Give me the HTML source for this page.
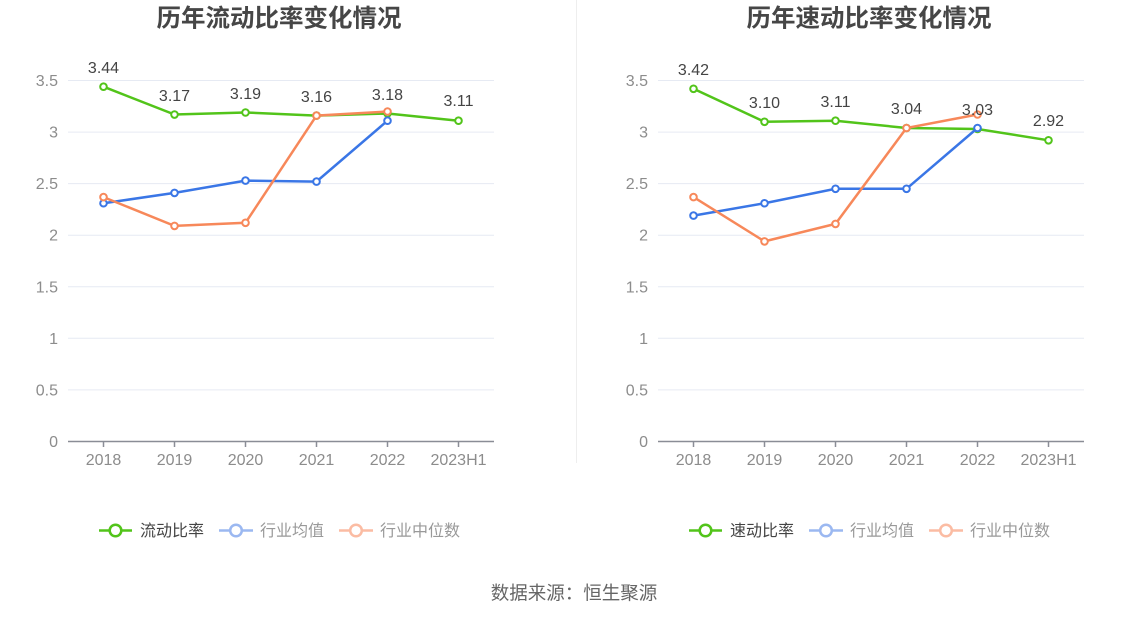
<!DOCTYPE html>
<html><head><meta charset="utf-8"><style>
html,body{margin:0;padding:0;background:#fff;}
svg{display:block;}
text{font-family:"Liberation Sans","Noto Sans CJK SC",sans-serif;}
.cjk{font-family:"Noto Sans CJK SC","Liberation Sans",sans-serif;}
.ttl{font-size:24.5px;font-weight:bold;fill:#464646;}
.yl{font-size:16px;fill:#8c8c8c;text-anchor:end;}
.xl{font-size:16px;fill:#8c8c8c;text-anchor:middle;}
.dl{font-size:16px;fill:#444;text-anchor:middle;}
.grid{stroke:#e6eaf3;stroke-width:1;}
.lg{font-size:16px;}
</style></head><body>
<svg width="1148" height="619" viewBox="0 0 1148 619" xmlns="http://www.w3.org/2000/svg">
<rect width="1148" height="619" fill="#fff"/>
<line x1="576.5" y1="0" x2="576.5" y2="463" stroke="#eeeeee" stroke-width="1"/>

<!-- LEFT CHART -->
<text class="ttl cjk" x="279" y="26.5" text-anchor="middle">历年流动比率变化情况</text>
<g>
<line class="grid" x1="68" x2="494" y1="80.5" y2="80.5"/>
<line class="grid" x1="68" x2="494" y1="132.1" y2="132.1"/>
<line class="grid" x1="68" x2="494" y1="183.6" y2="183.6"/>
<line class="grid" x1="68" x2="494" y1="235.2" y2="235.2"/>
<line class="grid" x1="68" x2="494" y1="286.8" y2="286.8"/>
<line class="grid" x1="68" x2="494" y1="338.3" y2="338.3"/>
<line class="grid" x1="68" x2="494" y1="389.9" y2="389.9"/>
<line x1="68" x2="494" y1="441.5" y2="441.5" stroke="#8a8d96" stroke-width="1.5"/>
<g stroke="#8a8d96" stroke-width="1.5">
<line x1="103.5" x2="103.5" y1="441.5" y2="447"/>
<line x1="174.5" x2="174.5" y1="441.5" y2="447"/>
<line x1="245.5" x2="245.5" y1="441.5" y2="447"/>
<line x1="316.5" x2="316.5" y1="441.5" y2="447"/>
<line x1="387.5" x2="387.5" y1="441.5" y2="447"/>
<line x1="458.5" x2="458.5" y1="441.5" y2="447"/>
</g>
<text class="yl" x="58" y="86">3.5</text>
<text class="yl" x="58" y="137.6">3</text>
<text class="yl" x="58" y="189.1">2.5</text>
<text class="yl" x="58" y="240.7">2</text>
<text class="yl" x="58" y="292.3">1.5</text>
<text class="yl" x="58" y="343.8">1</text>
<text class="yl" x="58" y="395.4">0.5</text>
<text class="yl" x="58" y="447">0</text>
<text class="xl" x="103.5" y="465">2018</text>
<text class="xl" x="174.5" y="465">2019</text>
<text class="xl" x="245.5" y="465">2020</text>
<text class="xl" x="316.5" y="465">2021</text>
<text class="xl" x="387.5" y="465">2022</text>
<text class="xl" x="458.5" y="465">2023H1</text>

<polyline fill="none" stroke="#52c41a" stroke-width="2.5" points="103.5,86.7 174.5,114.55 245.5,112.5 316.5,115.6 387.5,113.5 458.5,120.7"/>
<g fill="#fff" stroke="#52c41a" stroke-width="2">
<circle cx="103.5" cy="86.7" r="3.3"/><circle cx="174.5" cy="114.55" r="3.3"/><circle cx="245.5" cy="112.5" r="3.3"/><circle cx="316.5" cy="115.6" r="3.3"/><circle cx="387.5" cy="113.5" r="3.3"/><circle cx="458.5" cy="120.7" r="3.3"/>
</g>
<polyline fill="none" stroke="#3a76e6" stroke-width="2.5" points="103.5,203.25 174.5,192.9 245.5,180.6 316.5,181.6 387.5,120.7"/>
<g fill="#fff" stroke="#3a76e6" stroke-width="2">
<circle cx="103.5" cy="203.25" r="3.3"/><circle cx="174.5" cy="192.9" r="3.3"/><circle cx="245.5" cy="180.6" r="3.3"/><circle cx="316.5" cy="181.6" r="3.3"/><circle cx="387.5" cy="120.7" r="3.3"/>
</g>
<polyline fill="none" stroke="#f7885a" stroke-width="2.5" points="103.5,197.1 174.5,225.9 245.5,222.8 316.5,115.6 387.5,111.5"/>
<g fill="#fff" stroke="#f7885a" stroke-width="2">
<circle cx="103.5" cy="197.1" r="3.3"/><circle cx="174.5" cy="225.9" r="3.3"/><circle cx="245.5" cy="222.8" r="3.3"/><circle cx="316.5" cy="115.6" r="3.3"/><circle cx="387.5" cy="111.5" r="3.3"/>
</g>
<text class="dl" x="103.5" y="73">3.44</text>
<text class="dl" x="174.5" y="101">3.17</text>
<text class="dl" x="245.5" y="99">3.19</text>
<text class="dl" x="316.5" y="102">3.16</text>
<text class="dl" x="387.5" y="100">3.18</text>
<text class="dl" x="458.5" y="106">3.11</text>

<!-- legend -->
<line x1="99" x2="132" y1="530.5" y2="530.5" stroke="#52c41a" stroke-width="2.5"/>
<circle cx="115.5" cy="530.5" r="5.8" fill="#fff" stroke="#52c41a" stroke-width="2.5"/>
<text class="lg cjk" x="140" y="536" fill="#444">流动比率</text>
<line x1="219" x2="253" y1="530.5" y2="530.5" stroke="#9bb8f1" stroke-width="2.5"/>
<circle cx="236" cy="530.5" r="5.8" fill="#fff" stroke="#9bb8f1" stroke-width="2.5"/>
<text class="lg cjk" x="260" y="536" fill="#999">行业均值</text>
<line x1="339" x2="373" y1="530.5" y2="530.5" stroke="#fbbca3" stroke-width="2.5"/>
<circle cx="356" cy="530.5" r="5.8" fill="#fff" stroke="#fbbca3" stroke-width="2.5"/>
<text class="lg cjk" x="380" y="536" fill="#999">行业中位数</text>
</g>

<!-- RIGHT CHART -->
<text class="ttl cjk" x="869" y="26.5" text-anchor="middle">历年速动比率变化情况</text>
<g>
<line class="grid" x1="658" x2="1084" y1="80.5" y2="80.5"/>
<line class="grid" x1="658" x2="1084" y1="132.1" y2="132.1"/>
<line class="grid" x1="658" x2="1084" y1="183.6" y2="183.6"/>
<line class="grid" x1="658" x2="1084" y1="235.2" y2="235.2"/>
<line class="grid" x1="658" x2="1084" y1="286.8" y2="286.8"/>
<line class="grid" x1="658" x2="1084" y1="338.3" y2="338.3"/>
<line class="grid" x1="658" x2="1084" y1="389.9" y2="389.9"/>
<line x1="658" x2="1084" y1="441.5" y2="441.5" stroke="#8a8d96" stroke-width="1.5"/>
<g stroke="#8a8d96" stroke-width="1.5">
<line x1="693.5" x2="693.5" y1="441.5" y2="447"/>
<line x1="764.5" x2="764.5" y1="441.5" y2="447"/>
<line x1="835.5" x2="835.5" y1="441.5" y2="447"/>
<line x1="906.5" x2="906.5" y1="441.5" y2="447"/>
<line x1="977.5" x2="977.5" y1="441.5" y2="447"/>
<line x1="1048.5" x2="1048.5" y1="441.5" y2="447"/>
</g>
<text class="yl" x="648" y="86">3.5</text>
<text class="yl" x="648" y="137.6">3</text>
<text class="yl" x="648" y="189.1">2.5</text>
<text class="yl" x="648" y="240.7">2</text>
<text class="yl" x="648" y="292.3">1.5</text>
<text class="yl" x="648" y="343.8">1</text>
<text class="yl" x="648" y="395.4">0.5</text>
<text class="yl" x="648" y="447">0</text>
<text class="xl" x="693.5" y="465">2018</text>
<text class="xl" x="764.5" y="465">2019</text>
<text class="xl" x="835.5" y="465">2020</text>
<text class="xl" x="906.5" y="465">2021</text>
<text class="xl" x="977.5" y="465">2022</text>
<text class="xl" x="1048.5" y="465">2023H1</text>

<polyline fill="none" stroke="#52c41a" stroke-width="2.5" points="693.5,88.8 764.5,121.8 835.5,120.7 906.5,128 977.5,129 1048.5,140.3"/>
<g fill="#fff" stroke="#52c41a" stroke-width="2">
<circle cx="693.5" cy="88.8" r="3.3"/><circle cx="764.5" cy="121.8" r="3.3"/><circle cx="835.5" cy="120.7" r="3.3"/><circle cx="906.5" cy="128" r="3.3"/><circle cx="977.5" cy="129" r="3.3"/><circle cx="1048.5" cy="140.3" r="3.3"/>
</g>
<polyline fill="none" stroke="#3a76e6" stroke-width="2.5" points="693.5,215.6 764.5,203.25 835.5,188.8 906.5,188.8 977.5,128"/>
<g fill="#fff" stroke="#3a76e6" stroke-width="2">
<circle cx="693.5" cy="215.6" r="3.3"/><circle cx="764.5" cy="203.25" r="3.3"/><circle cx="835.5" cy="188.8" r="3.3"/><circle cx="906.5" cy="188.8" r="3.3"/><circle cx="977.5" cy="128" r="3.3"/>
</g>
<polyline fill="none" stroke="#f7885a" stroke-width="2.5" points="693.5,197.1 764.5,241.4 835.5,223.9 906.5,128 977.5,114.5"/>
<g fill="#fff" stroke="#f7885a" stroke-width="2">
<circle cx="693.5" cy="197.1" r="3.3"/><circle cx="764.5" cy="241.4" r="3.3"/><circle cx="835.5" cy="223.9" r="3.3"/><circle cx="906.5" cy="128" r="3.3"/><circle cx="977.5" cy="114.5" r="3.3"/>
</g>
<text class="dl" x="693.5" y="75">3.42</text>
<text class="dl" x="764.5" y="108">3.10</text>
<text class="dl" x="835.5" y="107">3.11</text>
<text class="dl" x="906.5" y="114">3.04</text>
<text class="dl" x="977.5" y="115">3.03</text>
<text class="dl" x="1048.5" y="126">2.92</text>

<!-- legend -->
<line x1="689" x2="722" y1="530.5" y2="530.5" stroke="#52c41a" stroke-width="2.5"/>
<circle cx="705.5" cy="530.5" r="5.8" fill="#fff" stroke="#52c41a" stroke-width="2.5"/>
<text class="lg cjk" x="730" y="536" fill="#444">速动比率</text>
<line x1="809" x2="843" y1="530.5" y2="530.5" stroke="#9bb8f1" stroke-width="2.5"/>
<circle cx="826" cy="530.5" r="5.8" fill="#fff" stroke="#9bb8f1" stroke-width="2.5"/>
<text class="lg cjk" x="850" y="536" fill="#999">行业均值</text>
<line x1="929" x2="963" y1="530.5" y2="530.5" stroke="#fbbca3" stroke-width="2.5"/>
<circle cx="946" cy="530.5" r="5.8" fill="#fff" stroke="#fbbca3" stroke-width="2.5"/>
<text class="lg cjk" x="970" y="536" fill="#999">行业中位数</text>
</g>

<text class="cjk" x="574" y="599.5" text-anchor="middle" font-size="18.5" fill="#666">数据来源：恒生聚源</text>
</svg>
</body></html>
